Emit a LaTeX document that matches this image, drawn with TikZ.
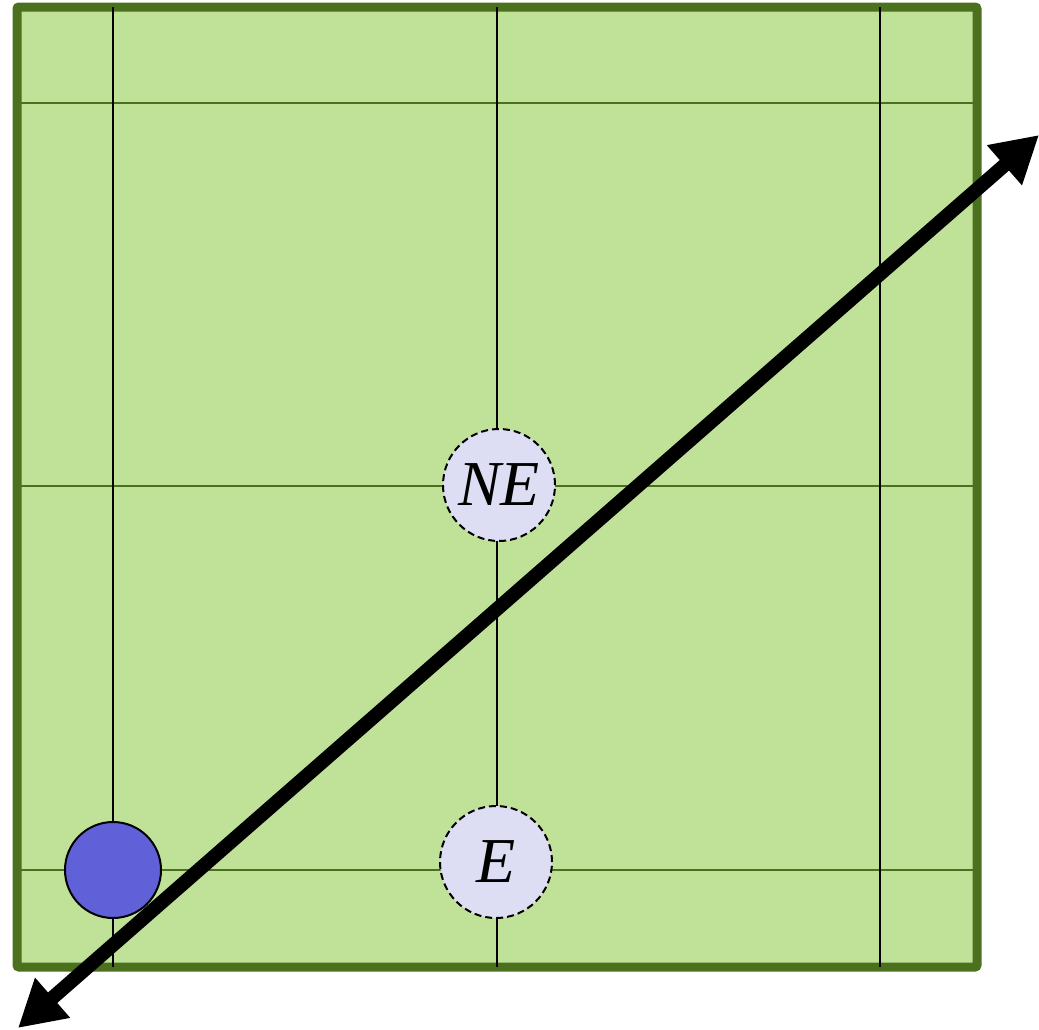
\documentclass[tikz,border=0pt]{standalone}
\usepackage{fontspec}
\setmainfont{Liberation Serif}[ItalicFont={Liberation Serif Italic}]
\usetikzlibrary{arrows.meta}
\definecolor{bordergreen}{RGB}{75,112,30}
\definecolor{fillgreen}{RGB}{192,226,152}
\definecolor{lav}{RGB}{221,221,244}
\definecolor{blueball}{RGB}{96,96,216}
\tikzset{
  frame/.style={draw=bordergreen, fill=fillgreen, line width=9pt, rounded corners=2pt},
  vline/.style={draw=black, line width=2pt},
  hline/.style={draw=bordergreen, line width=2pt},
  dir/.style={circle, draw=black, dash pattern=on 7pt off 4pt, line width=2pt, fill=lav, minimum size=112pt, inner sep=0pt, font=\fontsize{64}{64}\selectfont\itshape},
  ball/.style={circle, draw=black, line width=2pt, fill=blueball, minimum size=96pt, inner sep=0pt},
  bigarrow/.style={line width=14pt, {Triangle[length=46pt,width=50pt]}-{Triangle[length=46pt,width=50pt]}}
}
\begin{document}
\begin{tikzpicture}[x=1pt,y=-1pt]
\useasboundingbox (0,0) rectangle (1039,1029);
\path[frame] (17,7) rectangle (977,967);
% horizontal grid lines
\coordinate (h1a) at (17,103); \coordinate (h1b) at (977,103);
\coordinate (h2a) at (17,486); \coordinate (h2b) at (977,486);
\coordinate (h3a) at (17,870); \coordinate (h3b) at (977,870);
\draw[hline] (h1a) -- (h1b);
\draw[hline] (h2a) -- (h2b);
\draw[hline] (h3a) -- (h3b);
% vertical grid lines
\coordinate (v1a) at (113,7); \coordinate (v1b) at (113,967);
\coordinate (v2a) at (497,7); \coordinate (v2b) at (497,967);
\coordinate (v3a) at (880,7); \coordinate (v3b) at (880,967);
\draw[vline] (v1a) -- (v1b);
\draw[vline] (v2a) -- (v2b);
\draw[vline] (v3a) -- (v3b);
% nodes
\node[dir] (ne) at (499,485) {NE};
\node[dir] (e) at (496,862) {E};
\node[ball] (b) at (113,870) {};
% arrow
\coordinate (p) at (18,1028);
\coordinate (q) at (1039,135);
\draw[bigarrow] (p) -- (q);
\end{tikzpicture}
\end{document}
